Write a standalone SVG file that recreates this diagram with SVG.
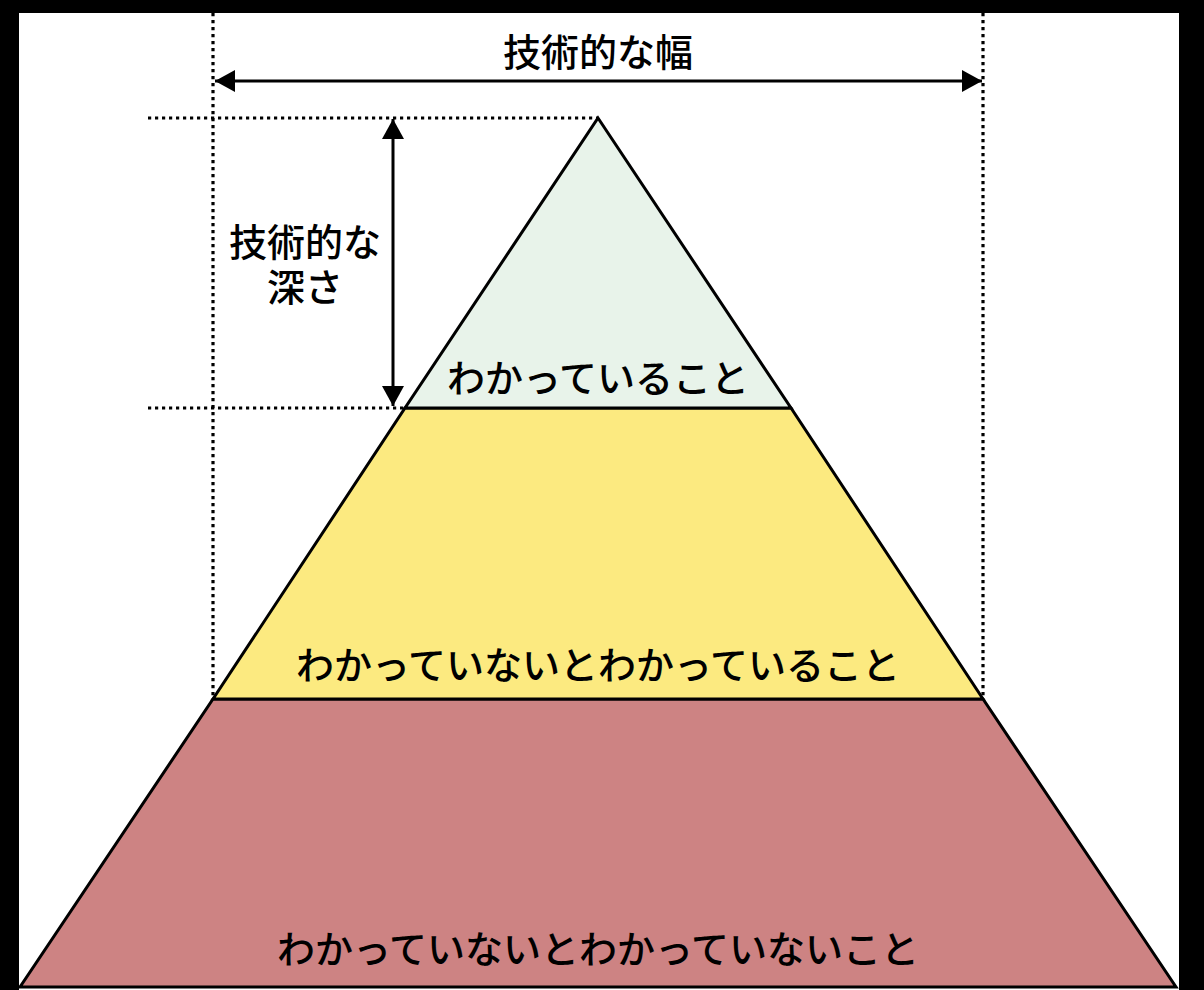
<svg xmlns="http://www.w3.org/2000/svg" width="1204" height="990" viewBox="0 0 1204 990">
<style>
.lbl{font-family:"Noto Sans CJK JP","Noto Sans CJK SC",sans-serif;fill:#000;text-anchor:middle;font-weight:500;}
.layer{stroke:#000;stroke-width:3;stroke-linejoin:miter;}
.dot{stroke:#000;stroke-width:3.2;stroke-dasharray:3.2 3.8;fill:none;}
.arr{stroke:#000;stroke-width:3;fill:none;}
</style>
<defs>
<marker id="ah" markerUnits="userSpaceOnUse" markerWidth="22" markerHeight="22" viewBox="0 0 20 22" refX="20" refY="11" orient="auto-start-reverse">
<path d="M0,0 L20,11 L0,22 z" fill="#000"/>
</marker>
</defs>
<rect x="0" y="0" width="1204" height="990" fill="#000"/>
<rect x="19" y="13" width="1160" height="977" fill="#fff"/>
<g id="bottom-layer">
<polygon class="layer" points="213,699 983,699 1176,987 20,987" fill="#CD8383"/>
<text class="lbl" x="598" y="963" font-size="38">わかっていないとわかっていないこと</text>
</g>
<g id="middle-layer">
<polygon class="layer" points="405,408 791,408 983,699 213,699" fill="#FCEA80"/>
<text class="lbl" x="598" y="679" font-size="38">わかっていないとわかっていること</text>
</g>
<g id="top-layer">
<polygon class="layer" points="598,118 791,408 405,408" fill="#E8F3EA"/>
<text class="lbl" x="598" y="392" font-size="38">わかっていること</text>
</g>
<g id="connectors">
<line class="dot" x1="213" y1="13" x2="213" y2="699"/>
<line class="dot" x1="983" y1="13" x2="983" y2="699"/>
<line class="dot" x1="148" y1="118" x2="598" y2="118"/>
<line class="dot" x1="148" y1="408" x2="405" y2="408"/>
<line class="arr" x1="215" y1="81" x2="982" y2="81" marker-start="url(#ah)" marker-end="url(#ah)"/>
<line class="arr" x1="393" y1="119" x2="393" y2="406" marker-start="url(#ah)" marker-end="url(#ah)"/>
</g>
<g id="width-label">
<text class="lbl" x="598" y="66" font-size="38">技術的な幅</text>
</g>
<g id="depth-label">
<text class="lbl" x="305" y="256" font-size="38">技術的な</text>
<text class="lbl" x="305" y="301" font-size="38">深さ</text>
</g>
</svg>
